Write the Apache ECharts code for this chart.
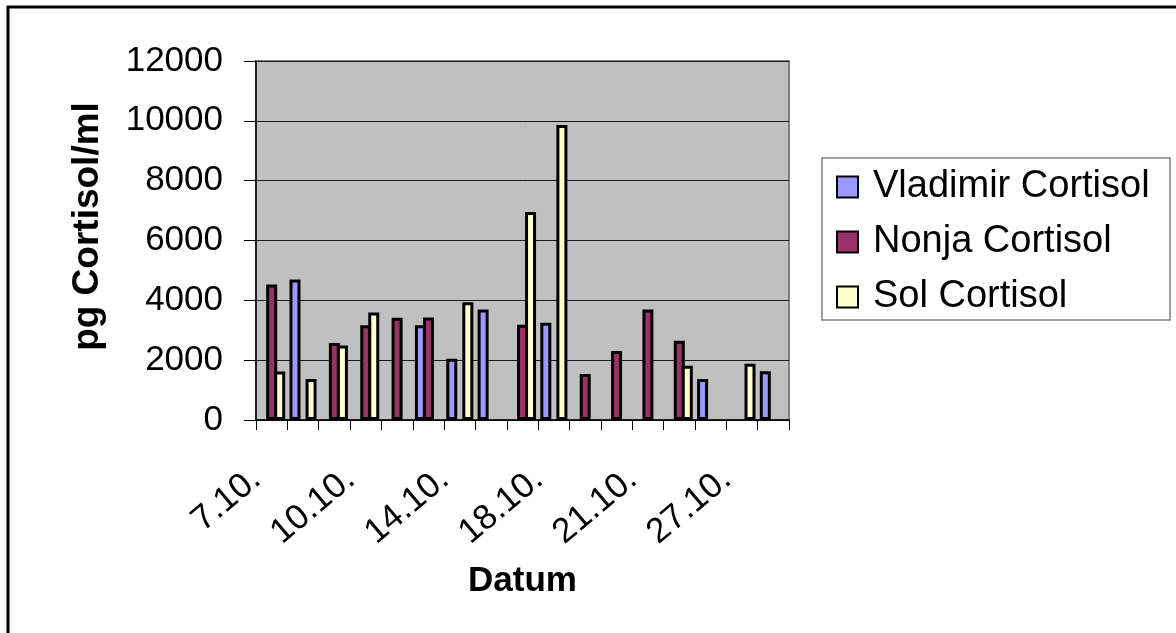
<!DOCTYPE html>
<html>
<head>
<meta charset="utf-8">
<script src="https://cdn.jsdelivr.net/npm/echarts@6/dist/echarts.min.js"></script>
<style>html,body{margin:0;padding:0;background:#fff}#c{width:1176px;height:633px}</style>
</head>
<body>
<div id="c"></div>
<script>
var categories = ['7.10.','8.10.','9.10.','10.10.','11.10.','12.10.','14.10.','15.10.','16.10.','18.10.','19.10.','20.10.','21.10.','22.10.','24.10.','27.10.','28.10.'];
var vladimir = [null, 4700, null, null, null, 3170, 2050, 3690, null, 3250, null, null, null, null, 1370, null, 1630];
var nonja    = [4530, null, 2570, 3170, 3420, 3430, null, null, 3180, null, 1540, 2310, 3690, 2650, null, null, null];
var sol      = [1620, 1370, 2490, 3590, null, null, 3940, null, 6950, 9860, null, null, null, 1810, null, 1880, null];
var seriesNames = ['Vladimir Cortisol', 'Nonja Cortisol', 'Sol Cortisol'];
var seriesColors = ['#9999FF', '#993366', '#FFFFCC'];

var FONT = "'Liberation Sans', Arial, sans-serif";
var chart = echarts.init(document.getElementById('c'), null, {renderer: 'canvas'});
function bar(name, data, color) {
  return {
    name: name, type: 'bar', data: data,
    barGap: '-27%', barWidth: 11,
    itemStyle: {color: color, borderColor: '#000', borderWidth: 3},
    emphasis: {disabled: true}
  };
}
chart.setOption({
  animation: false,
  backgroundColor: '#fff',
  textStyle: {fontFamily: FONT},
  grid: {left: 256, right: 387, top: 61, bottom: 213, show: true,
         backgroundColor: '#C0C0C0', borderColor: '#808080', borderWidth: 2},
  legend: {
    orient: 'vertical', left: 836, top: 167, itemGap: 15, padding: 0,
    icon: 'rect', itemWidth: 21, itemHeight: 21,
    textStyle: {fontFamily: FONT, fontSize: 38, color: '#000', lineHeight: 40, padding: [0, 0, 0, 10]},
    data: seriesNames
  },
  xAxis: {
    type: 'category', data: categories, boundaryGap: true,
    name: 'Datum', nameLocation: 'middle', nameGap: 144,
    nameTextStyle: {fontFamily: FONT, fontSize: 35, fontWeight: 'bold', color: '#000'},
    axisLine: {lineStyle: {color: '#000', width: 1.5}},
    axisTick: {show: true, interval: 0, length: 10, lineStyle: {color: '#000', width: 1}},
    axisLabel: {interval: 2, rotate: 40, margin: 42, fontSize: 35, color: '#000', fontFamily: FONT,
                padding: [0, 20, 0, 0]},
    splitLine: {show: false}
  },
  yAxis: {
    type: 'value', min: 0, max: 12000, interval: 2000,
    name: 'pg Cortisol/ml', nameLocation: 'middle', nameGap: 150, nameRotate: 90,
    nameTextStyle: {fontFamily: FONT, fontSize: 37, fontWeight: 'bold', color: '#000', padding: [0, 0, 0, 28]},
    axisLine: {show: true, lineStyle: {color: '#000', width: 1.5}},
    axisTick: {show: true, length: 12, lineStyle: {color: '#000', width: 1}},
    axisLabel: {margin: 33, fontSize: 35, color: '#000', fontFamily: FONT,
                formatter: function (v) { return String(v); }},
    splitLine: {show: true, lineStyle: {color: '#1a1a1a', width: 1}}
  },
  graphic: [
    {type: 'rect', z: 100, silent: true, shape: {x: 8, y: 7, width: 1400, height: 1000},
     style: {fill: 'none', stroke: '#000', lineWidth: 3}},
    {type: 'rect', z: 1, silent: true, shape: {x: 822, y: 158, width: 348, height: 162},
     style: {fill: '#fff', stroke: '#808080', lineWidth: 1.5}}
  ],
  series: [
    bar(seriesNames[0], vladimir, seriesColors[0]),
    bar(seriesNames[1], nonja, seriesColors[1]),
    bar(seriesNames[2], sol, seriesColors[2])
  ]
});
</script>
</body>
</html>
